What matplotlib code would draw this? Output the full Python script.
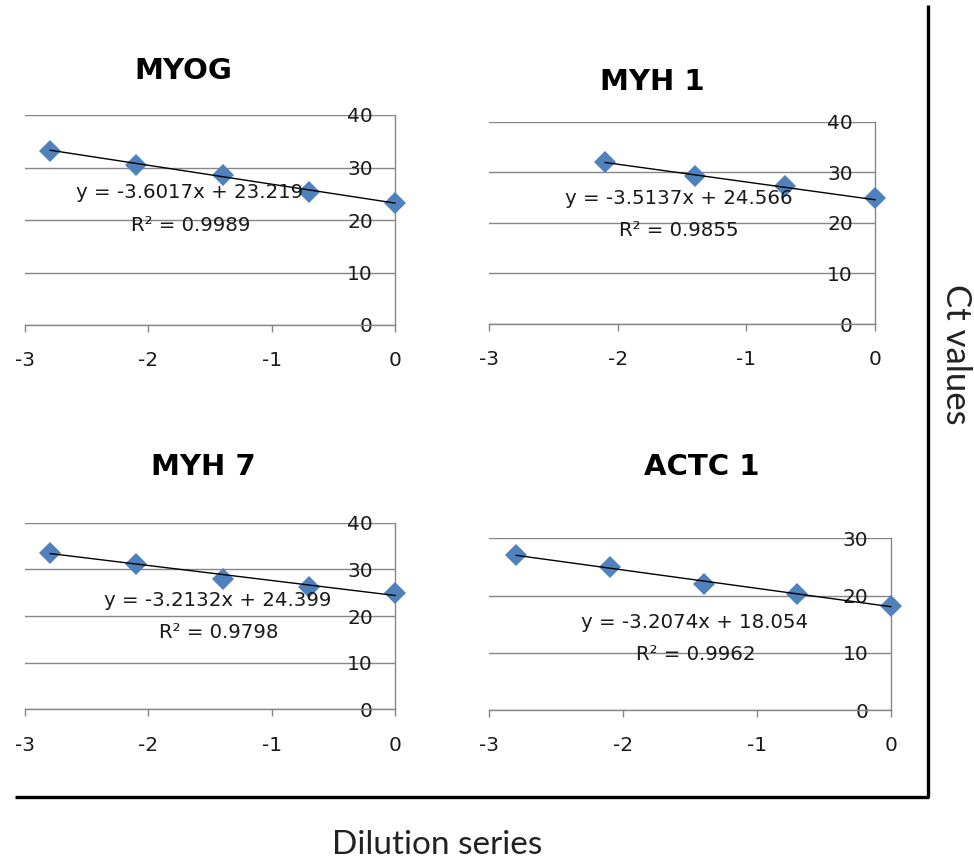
import matplotlib
matplotlib.use("Agg")
import matplotlib.pyplot as plt
from matplotlib.lines import Line2D
import numpy as np

plt.rcParams["axes.unicode_minus"] = False

W, H = 974, 864

# ---------------- data ----------------
dilution = [-2.796, -2.097, -1.398, -0.699, 0.0]

genes = ["MYOG", "MYH 1", "MYH 7", "ACTC 1"]
myog_ct = [33.2, 30.5, 28.5, 25.4, 23.2]
myh1_x = [-2.097, -1.398, -0.699, 0.0]
myh1_ct = [32.1, 29.3, 27.3, 25.0]
myh7_ct = [33.4, 31.2, 28.0, 26.3, 24.9]
actc1_ct = [27.1, 24.9, 22.1, 20.2, 18.2]

slopes = [-3.6017, -3.5137, -3.2132, -3.2074]
intercepts = [23.219, 24.566, 24.399, 18.054]
eq_labels = ["y = -3.6017x + 23.219", "y = -3.5137x + 24.566",
             "y = -3.2132x + 24.399", "y = -3.2074x + 18.054"]
r2_labels = ["R² = 0.9989", "R² = 0.9855", "R² = 0.9798", "R² = 0.9962"]

x_ticks = [-3, -2, -1, 0]
y_ticks_40 = [0, 10, 20, 30, 40]
y_ticks_30 = [0, 10, 20, 30]

xs_list = [dilution, myh1_x, dilution, dilution]
ys_list = [myog_ct, myh1_ct, myh7_ct, actc1_ct]
yticks_list = [y_ticks_40, y_ticks_40, y_ticks_40, y_ticks_30]

# ---------------- layout (pixels) ----------------
boxes = [(25, 395, 115, 325), (489, 875, 121.7, 324),
         (25, 395, 522.7, 709.3), (489, 890.7, 538.3, 710)]
title_pos = [(183, 71), (652, 82), (203, 467), (702, 467)]
eq_pos = [(190, 193), (679, 198), (218, 600), (695, 623)]
r2_pos = [(191, 225), (679, 230), (219, 633), (696, 655)]

def fx(x):
    return x / W

def fy(y):
    return 1 - y / H

fig = plt.figure(figsize=(W / 100, H / 100), dpi=100)
fig.patch.set_facecolor("white")

grid_c = "#868686"
mark_c = "#4F81BD"
txt_c = "#1a1a1a"

for i in range(4):
    l, r, t, b = boxes[i]
    ax = fig.add_axes([fx(l), fy(b), fx(r) - fx(l), fy(t) - fy(b)])
    ax.set_xlim(-3, 0)
    yt = yticks_list[i]
    ax.set_ylim(0, yt[-1])
    ax.set_xticks(x_ticks)
    ax.set_yticks(yt)
    ax.set_facecolor("none")

    for s in ["left", "top"]:
        ax.spines[s].set_visible(False)
    for s in ["right", "bottom"]:
        ax.spines[s].set_color(grid_c)
        ax.spines[s].set_linewidth(1.0)

    ax.yaxis.grid(True, color=grid_c, linewidth=1.0)
    ax.set_axisbelow(True)

    ax.tick_params(axis="x", direction="out", length=5, width=1.0,
                   color=grid_c, pad=14, labelsize=14.5, labelcolor=txt_c)
    ax.yaxis.set_ticks_position("right")
    ax.tick_params(axis="y", length=0, pad=-16, labelsize=14.5,
                   labelcolor=txt_c, labelright=True, labelleft=False)
    for lab in ax.get_yticklabels():
        lab.set_ha("right")

    xs = np.array(xs_list[i])
    ys = np.array(ys_list[i])
    ax.plot(xs, ys, linestyle="none", marker="D", markersize=11.5,
            color=mark_c, markeredgewidth=0, clip_on=False, zorder=3)
    xl = np.array([xs.min(), xs.max()])
    ax.plot(xl, slopes[i] * xl + intercepts[i], color="black",
            linewidth=1.0, zorder=4, clip_on=False)

    fig.text(fx(title_pos[i][0]), fy(title_pos[i][1]), genes[i],
             ha="center", va="center", fontsize=21, fontweight="bold",
             family="DejaVu Sans", color="black")
    fig.text(fx(eq_pos[i][0]), fy(eq_pos[i][1]), eq_labels[i],
             ha="center", va="center", fontsize=14.2, color=txt_c, zorder=5)
    fig.text(fx(r2_pos[i][0]), fy(r2_pos[i][1]), r2_labels[i],
             ha="center", va="center", fontsize=14.2, color=txt_c, zorder=5)

# outer frame lines
fig.add_artist(Line2D([fx(928), fx(928)], [fy(5), fy(797)], color="black",
                      linewidth=2.4, solid_capstyle="butt"))
fig.add_artist(Line2D([fx(15), fx(929)], [fy(797), fy(797)], color="black",
                      linewidth=2.4, solid_capstyle="butt"))

fig.text(fx(437), fy(845), "Dilution series", ha="center", va="center",
         fontsize=24, family=["Lato", "DejaVu Sans"], color="#222222")
fig.text(fx(956), fy(354), "Ct values", ha="center", va="center",
         rotation=270, fontsize=25, family=["Lato", "DejaVu Sans"],
         color="#222222")

fig.savefig("out.png", dpi=100, facecolor="white")
